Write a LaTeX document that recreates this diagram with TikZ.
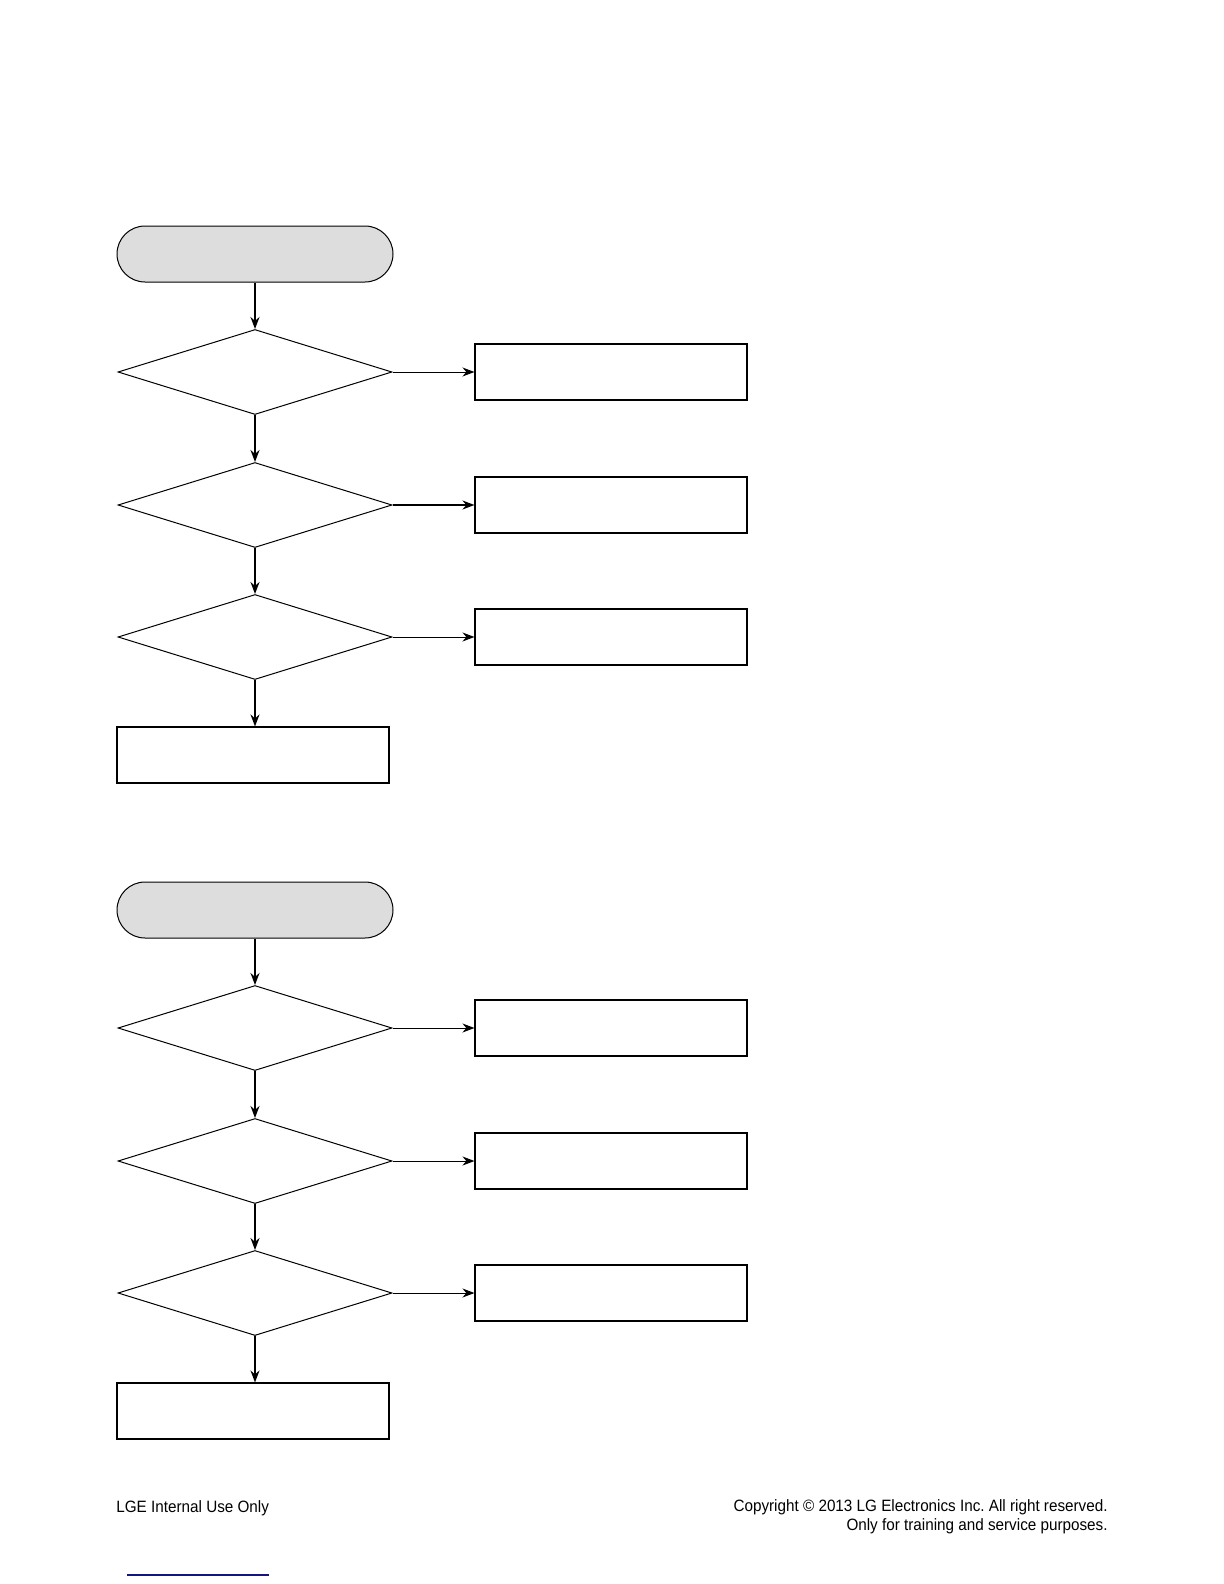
\documentclass[tikz,border=0pt]{standalone}
\usepackage{fontspec}
\setmainfont{Liberation Sans}
\usetikzlibrary{shapes.geometric,arrows.meta}
\definecolor{termgray}{RGB}{221,221,221}
\definecolor{linknavy}{RGB}{20,20,130}
\frenchspacing
\begin{document}
\begin{tikzpicture}[x=0.5pt,y=-0.5pt,
  terminal/.style={draw, fill=termgray, line width=0.5pt, rounded corners=14pt,
    minimum width=138pt, minimum height=28pt, inner sep=0pt},
  decision/.style={draw, diamond, line width=0.5pt, minimum width=137pt,
    minimum height=42.5pt, inner sep=0pt},
  procbox/.style={draw, rectangle, line width=0.55pt, minimum width=136pt,
    minimum height=28pt, inner sep=0pt},
  flow/.style={-{Stealth[length=6pt,width=4.5pt]}, line width=0.8pt},
  side/.style={-{Stealth[length=6pt,width=4.5pt]}, line width=0.5pt},
  sidethick/.style={-{Stealth[length=6pt,width=4.5pt]}, line width=0.8pt},
  foot/.style={font=\fontsize{8.2pt}{9.5pt}\selectfont, inner sep=0pt}]
\useasboundingbox (0,0) rectangle (1224,1584);
% ---- section 1 ----
\node[terminal] (t1) at (255,254) {};
\node[decision] (a1) at (255,372) {};
\node[decision] (a2) at (255,505) {};
\node[decision] (a3) at (255,637) {};
\node[procbox] (r1) at (611,372) {};
\node[procbox] (r2) at (611,505) {};
\node[procbox] (r3) at (611,637) {};
\node[procbox] (e1) at (253,755) {};
\draw[flow] (t1.south) -- (a1.north);
\draw[flow] (a1.south) -- (a2.north);
\draw[flow] (a2.south) -- (a3.north);
\draw[flow] (a3.south) -- (a3.south |- e1.north);
\draw[side] (a1.east) -- (a1.east -| r1.west);
\draw[sidethick] (a2.east) -- (a2.east -| r2.west);
\draw[side] (a3.east) -- (a3.east -| r3.west);
% ---- section 2 ----
\node[terminal] (t2) at (255,910) {};
\node[decision] (b1) at (255,1028) {};
\node[decision] (b2) at (255,1161) {};
\node[decision] (b3) at (255,1293) {};
\node[procbox] (s1) at (611,1028) {};
\node[procbox] (s2) at (611,1161) {};
\node[procbox] (s3) at (611,1293) {};
\node[procbox] (e2) at (253,1411) {};
\draw[flow] (t2.south) -- (b1.north);
\draw[flow] (b1.south) -- (b2.north);
\draw[flow] (b2.south) -- (b3.north);
\draw[flow] (b3.south) -- (b3.south |- e2.north);
\draw[side] (b1.east) -- (b1.east -| s1.west);
\draw[side] (b2.east) -- (b2.east -| s2.west);
\draw[side] (b3.east) -- (b3.east -| s3.west);
% ---- footer ----
\node[foot, anchor=base west] (lge) at (116,1512) {\scalebox{0.93}[1]{LGE Internal Use Only}};
\node[foot, anchor=base east] (cp1) at (1108,1511) {\scalebox{0.93}[1]{Copyright © 2013 LG Electronics Inc. All right reserved.}};
\node[foot, anchor=base east] (cp2) at (1108,1530) {\scalebox{0.93}[1]{Only for training and service purposes.}};
\draw[linknavy, line width=0.6pt] (127,1575) -- (269,1575);
\end{tikzpicture}
\end{document}
